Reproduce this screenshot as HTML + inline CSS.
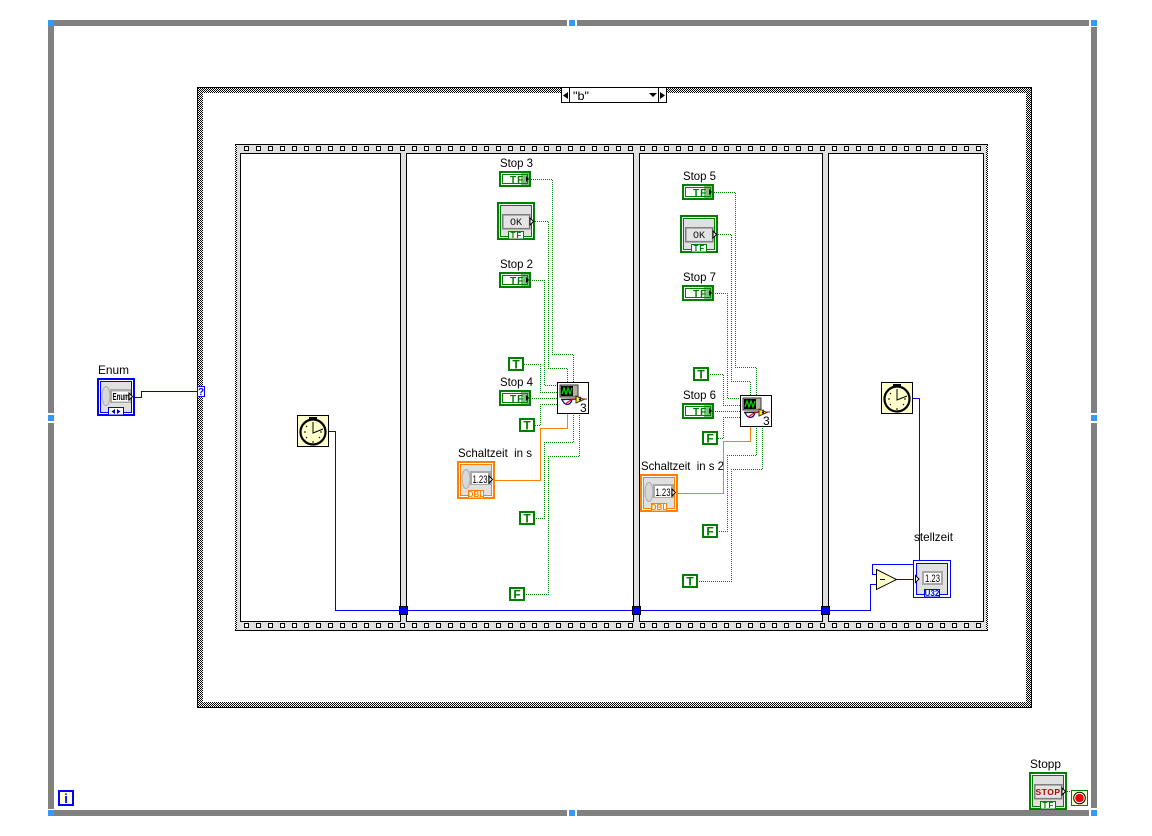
<!DOCTYPE html>
<html><head><meta charset="utf-8"><style>
html,body{margin:0;padding:0;background:#fff;width:1152px;height:836px;overflow:hidden}
svg{display:block}
text{font-family:"Liberation Sans",sans-serif;fill:#000}
.l{font-size:12px}
.g{fill:none;stroke:url(#dot);stroke-width:1}
.o{fill:none;stroke:#ff8000;stroke-width:1}
.b{fill:none;stroke:#0000ff;stroke-width:1}
.tf{font-size:10px;font-weight:bold;fill:#007a00;letter-spacing:1px}
.c{font-size:12px;font-weight:bold;fill:#007a00}
.tt{font-size:8px;font-weight:bold;fill:#007a00;letter-spacing:1px}
</style></head><body>
<svg width="1152" height="836" viewBox="0 0 1152 836" xmlns="http://www.w3.org/2000/svg">
<defs>
<pattern id="ck" width="2" height="2" patternUnits="userSpaceOnUse"><rect width="2" height="2" fill="#fff"/><rect width="1" height="1" fill="#000"/><rect x="1" y="1" width="1" height="1" fill="#000"/></pattern>
<pattern id="dot" width="2" height="2" patternUnits="userSpaceOnUse"><rect width="1" height="1" fill="#007f00"/><rect x="1" y="1" width="1" height="1" fill="#007f00"/></pattern>
<g id="bt" shape-rendering="crispEdges"><rect width="32" height="16" fill="#007f00"/><rect x="2" y="2" width="28" height="12" fill="#fff"/><rect x="3.5" y="3.5" width="25" height="9" fill="#fff" stroke="#007f00"/></g>
<g id="bo"><rect x="22" y="2" width="8" height="12" fill="#007f00" fill-opacity=".5"/><path d="M27 5L30 8L27 11Z" fill="#000"/></g>
<g id="con" shape-rendering="crispEdges"><rect width="16" height="14" fill="#007f00"/><rect x="2" y="2" width="12" height="10" fill="#fff"/></g>
<g id="big" shape-rendering="crispEdges"><rect x="1" y="1" width="36" height="36" fill="#fff" stroke="currentColor" stroke-width="2"/><rect x="3.5" y="3.5" width="31" height="31" fill="#e0e0e0" stroke="currentColor"/></g>
<g id="btn"><rect x="5.5" y="12.5" width="27" height="14" fill="#d8d8d8" stroke="#808080" stroke-width="1.5" shape-rendering="crispEdges"/><rect x="7" y="14" width="24" height="11" fill="#e4e4e4"/></g>
<g id="tab" shape-rendering="crispEdges"><rect x="11.5" y="29.5" width="15" height="7.5" fill="#fff" stroke="currentColor"/></g>
<path id="arw" d="M0 0L3.5 3.5L0 7Z" fill="#fff" stroke="#000" stroke-width="1"/>
<g id="clk"><rect x=".5" y=".5" width="31" height="31" fill="#ffffcc" stroke="#000" shape-rendering="crispEdges"/><rect x="12" y="2" width="8" height="2"/><rect x="15" y="3" width="2" height="3"/><circle cx="16" cy="17" r="12.5" fill="#ffffcc" stroke="#000" stroke-width="2.2"/><path d="M16 7V18L26 14" fill="none" stroke="#000" stroke-width="1"/><path d="M16 26v2M7 17h2M23 17h2M9 11l1 1M23 23l-1-1M9 23l1-1" stroke="#000" stroke-width="1"/></g>
<g id="xvi"><rect x=".5" y=".5" width="31" height="31" fill="#fff" stroke="#000" stroke-width="1.2" shape-rendering="crispEdges"/><rect x="3" y="3" width="18" height="12" fill="#b8b0a0" stroke="#333"/><rect x="4" y="4" width="12" height="10" fill="#000"/><path d="M5 12L7 6L9 12L11 6L13 12L15 6" fill="none" stroke="#00d000" stroke-width="1.3"/><path d="M5 17C7 24 13 24 15 18" fill="none" stroke="#0000b0" stroke-width="1.2"/><path d="M4 17.500L22 17" stroke="#202020" stroke-width="1.5"/><path d="M8 22L14 18L24 15" fill="none" stroke="#e00000" stroke-width="1.1"/><path d="M19 14L27 17.500L19 21Z" fill="#ffee00" stroke="#333"/><path d="M26 17h4" stroke="#e00000"/><circle cx="23" cy="17.500" r="1.100" fill="#000"/></g>
<g id="num"><ellipse cx="9" cy="18" rx="4" ry="9.500" fill="#d8d8d8" stroke="#aaa"/><rect x="13" y="10" width="21" height="14" fill="#a8a8a8"/><rect x="15" y="12" width="16" height="11" fill="#fff"/></g>
</defs>

<!-- While loop -->
<g fill="#808080" shape-rendering="crispEdges">
<rect x="54" y="20" width="513" height="6"/><rect x="577" y="20" width="512" height="6"/>
<rect x="54" y="810" width="513" height="6"/><rect x="577" y="810" width="512" height="6"/>
<rect x="48" y="26" width="6" height="387"/><rect x="48" y="423" width="6" height="386"/>
<rect x="1091" y="27" width="6" height="386"/><rect x="1091" y="423" width="6" height="385"/>
</g>
<g fill="#3399ff" shape-rendering="crispEdges">
<rect x="48" y="20" width="6" height="6"/><rect x="569" y="20" width="6" height="6"/><rect x="1091" y="20" width="6" height="6"/>
<rect x="48" y="415" width="6" height="6"/><rect x="1091" y="415" width="6" height="6"/>
<rect x="48" y="810" width="6" height="6"/><rect x="569" y="810" width="6" height="6"/><rect x="1091" y="810" width="6" height="6"/>
</g>

<!-- Case structure -->
<g shape-rendering="crispEdges">
<rect x="197.500" y="87.500" width="834" height="620" fill="url(#ck)" stroke="#000"/>
<rect x="203" y="93" width="823" height="609" fill="#fff"/>
<rect x="561.500" y="87.500" width="105" height="15" fill="#fff" stroke="#000"/>
<path d="M569.500 87V103M658.500 87V103" stroke="#000"/>
</g>
<path d="M568 92V99L563 95.500ZM660 92V99L665 95.500ZM649 93H657L653 97Z" fill="#000"/>
<text x="573" y="100" class="l" textLength="16" lengthAdjust="spacingAndGlyphs">"b"</text>

<!-- Sequence -->
<g shape-rendering="crispEdges">
<rect x="235.500" y="144.500" width="752" height="486" fill="#e0e0e0" stroke="#000"/>
<rect x="235" y="145" width="2" height="485" fill="url(#ck)"/>
<rect x="986" y="145" width="2" height="485" fill="url(#ck)"/>
<rect x="240.500" y="153.500" width="160" height="468" fill="#fff" stroke="#000"/>
<rect x="406.500" y="153.500" width="227" height="468" fill="#fff" stroke="#000"/>
<rect x="639.500" y="153.500" width="183" height="468" fill="#fff" stroke="#000"/>
<rect x="828.500" y="153.500" width="155" height="468" fill="#fff" stroke="#000"/>
<path id="h" d="M244.500 146.500h4v4h-4zM256.500 146.500h4v4h-4zM268.500 146.500h4v4h-4zM280.500 146.500h4v4h-4zM292.500 146.500h4v4h-4zM304.500 146.500h4v4h-4zM316.500 146.500h4v4h-4zM328.500 146.500h4v4h-4zM340.500 146.500h4v4h-4zM352.500 146.500h4v4h-4zM364.500 146.500h4v4h-4zM376.500 146.500h4v4h-4zM388.500 146.500h4v4h-4zM400.500 146.500h4v4h-4zM412.500 146.500h4v4h-4zM424.500 146.500h4v4h-4zM436.500 146.500h4v4h-4zM448.500 146.500h4v4h-4zM460.500 146.500h4v4h-4zM472.500 146.500h4v4h-4zM484.500 146.500h4v4h-4zM496.500 146.500h4v4h-4zM508.500 146.500h4v4h-4zM520.500 146.500h4v4h-4zM532.500 146.500h4v4h-4zM544.500 146.500h4v4h-4zM556.500 146.500h4v4h-4zM568.500 146.500h4v4h-4zM580.500 146.500h4v4h-4zM592.500 146.500h4v4h-4zM604.500 146.500h4v4h-4zM616.500 146.500h4v4h-4zM628.500 146.500h4v4h-4zM640.500 146.500h4v4h-4zM652.500 146.500h4v4h-4zM664.500 146.500h4v4h-4zM676.500 146.500h4v4h-4zM688.500 146.500h4v4h-4zM700.500 146.500h4v4h-4zM712.500 146.500h4v4h-4zM724.500 146.500h4v4h-4zM736.500 146.500h4v4h-4zM748.500 146.500h4v4h-4zM760.500 146.500h4v4h-4zM772.500 146.500h4v4h-4zM784.500 146.500h4v4h-4zM796.500 146.500h4v4h-4zM808.500 146.500h4v4h-4zM820.500 146.500h4v4h-4zM832.500 146.500h4v4h-4zM844.500 146.500h4v4h-4zM856.500 146.500h4v4h-4zM868.500 146.500h4v4h-4zM880.500 146.500h4v4h-4zM892.500 146.500h4v4h-4zM904.500 146.500h4v4h-4zM916.500 146.500h4v4h-4zM928.500 146.500h4v4h-4zM940.500 146.500h4v4h-4zM952.500 146.500h4v4h-4zM964.500 146.500h4v4h-4zM976.500 146.500h4v4h-4z" fill="#fff" stroke="#000"/>
<use href="#h" y="477"/>
</g>

<!-- Wires -->
<g shape-rendering="crispEdges">
<path class="g" d="M531 179.500H552.500V354.500H573.500V382"/>
<path class="g" d="M535 221.500H548.500V368.500H567.500V382"/>
<path class="g" d="M531 280.500H544.500V385.500H557"/>
<path class="g" d="M524 364.500H540.500V392.500H557"/>
<path class="g" d="M531 398.500H557"/>
<path class="g" d="M535 425.500H540.500V404.500H557"/>
<path class="o" d="M567.500 414V428.500H540.500V480.500H495"/>
<path class="g" d="M573.500 414V442.500H544.500V518.500H535"/>
<path class="g" d="M579.500 414V456.500H548.500V594.500H525"/>

<path class="g" d="M714 192.500H735.500V367.500H756.500V395"/>
<path class="g" d="M718 234.500H731.500V381.500H750.500V395"/>
<path class="g" d="M714 293.500H727.500V398.500H740"/>
<path class="g" d="M709 374.500H723.500V405.500H740"/>
<path class="g" d="M714 411.500H740"/>
<path class="g" d="M718 438.500H723.500V417.500H740"/>
<path class="o" d="M750.500 427V441.500H723.500V493.500H678"/>
<path class="g" d="M756.500 427V455.500H727.500V531.500H718"/>
<path class="g" d="M762.500 427V469.500H731.500V581.500H698"/>

<path class="b" d="M329 431.500H335.500V610.500H870.500V584.500H877"/>
<path class="b" d="M913 398.500H919.500V561"/>
<path class="b" d="M877 574.500H872.500V564.500H914"/>
<path class="b" d="M896 579.500H914"/>
<path d="M135 397.500H141.500V391.500H197" fill="none" stroke="#0000c8"/>
<path class="g" d="M1067 791.500H1071"/>
</g>

<!-- Tunnels -->
<g fill="#0000ff" stroke="#000" shape-rendering="crispEdges">
<rect x="399.500" y="606.500" width="8" height="8"/><rect x="632.500" y="606.500" width="8" height="8"/><rect x="821.500" y="606.500" width="8" height="8"/>
</g>

<!-- Labels -->
<text x="500" y="167" class="l" textLength="33" lengthAdjust="spacingAndGlyphs">Stop 3</text>
<text x="500" y="268" class="l" textLength="33" lengthAdjust="spacingAndGlyphs">Stop 2</text>
<text x="500" y="386" class="l" textLength="33" lengthAdjust="spacingAndGlyphs">Stop 4</text>
<text x="458" y="457" class="l" xml:space="preserve" textLength="74" lengthAdjust="spacingAndGlyphs">Schaltzeit  in s</text>
<text x="683" y="180" class="l" textLength="33" lengthAdjust="spacingAndGlyphs">Stop 5</text>
<text x="683" y="281" class="l" textLength="33" lengthAdjust="spacingAndGlyphs">Stop 7</text>
<text x="683" y="399" class="l" textLength="33" lengthAdjust="spacingAndGlyphs">Stop 6</text>
<text x="641" y="470" class="l" xml:space="preserve" textLength="83" lengthAdjust="spacingAndGlyphs">Schaltzeit  in s 2</text>
<text x="98" y="374" class="l" textLength="31" lengthAdjust="spacingAndGlyphs">Enum</text>
<text x="914" y="541" class="l" textLength="39" lengthAdjust="spacingAndGlyphs">stellzeit</text>
<text x="1030" y="768" class="l" textLength="31" lengthAdjust="spacingAndGlyphs">Stopp</text>

<!-- Boolean terminals -->
<g transform="translate(499,171)"><use href="#bt"/><text x="11" y="12" class="tf">TF</text><use href="#bo"/></g>
<g transform="translate(499,272)"><use href="#bt"/><text x="11" y="12" class="tf">TF</text><use href="#bo"/></g>
<g transform="translate(499,390)"><use href="#bt"/><text x="11" y="12" class="tf">TF</text><use href="#bo"/></g>
<g transform="translate(682,184)"><use href="#bt"/><text x="11" y="12" class="tf">TF</text><use href="#bo"/></g>
<g transform="translate(682,285)"><use href="#bt"/><text x="11" y="12" class="tf">TF</text><use href="#bo"/></g>
<g transform="translate(682,403)"><use href="#bt"/><text x="11" y="12" class="tf">TF</text><use href="#bo"/></g>

<!-- OK buttons -->
<g transform="translate(497,202)" color="#007f00"><use href="#big"/><use href="#btn"/><text x="13" y="23" style="font-family:'Liberation Mono',monospace;font-size:10px;fill:#111">OK</text><use href="#tab"/><text x="13.500" y="36" class="tt">TF</text><use href="#arw" x="33" y="16"/></g>
<g transform="translate(680,215)" color="#007f00"><use href="#big"/><use href="#btn"/><text x="13" y="23" style="font-family:'Liberation Mono',monospace;font-size:10px;fill:#111">OK</text><use href="#tab"/><text x="13.500" y="36" class="tt">TF</text><use href="#arw" x="33" y="16"/></g>

<!-- Stop -->
<g transform="translate(1029,772)" color="#007f00"><use href="#big"/><use href="#btn"/><text x="19" y="23" text-anchor="middle" style="font-size:8.500px;font-weight:bold;fill:#c00000;letter-spacing:.5px">STOP</text><use href="#tab"/><text x="13.500" y="36" class="tt">TF</text><use href="#arw" x="33" y="16"/></g>

<!-- Constants -->
<g transform="translate(508,357)"><use href="#con"/><text x="8" y="11.500" text-anchor="middle" class="c">T</text></g>
<g transform="translate(519,418)"><use href="#con"/><text x="8" y="11.500" text-anchor="middle" class="c">T</text></g>
<g transform="translate(519,511)"><use href="#con"/><text x="8" y="11.500" text-anchor="middle" class="c">T</text></g>
<g transform="translate(509,587)"><use href="#con"/><text x="8" y="11.500" text-anchor="middle" class="c">F</text></g>
<g transform="translate(693,367)"><use href="#con"/><text x="8" y="11.500" text-anchor="middle" class="c">T</text></g>
<g transform="translate(702,431)"><use href="#con"/><text x="8" y="11.500" text-anchor="middle" class="c">F</text></g>
<g transform="translate(702,524)"><use href="#con"/><text x="8" y="11.500" text-anchor="middle" class="c">F</text></g>
<g transform="translate(682,574)"><use href="#con"/><text x="8" y="11.500" text-anchor="middle" class="c">T</text></g>

<!-- Numeric controls -->
<g transform="translate(457,461)" color="#ff8000"><use href="#big"/><use href="#num"/><text x="15.500" y="22" style="font-size:11px" textLength="15" lengthAdjust="spacingAndGlyphs">1.23</text><use href="#tab"/><text x="19" y="36" text-anchor="middle" style="font-size:8px;font-weight:bold;fill:#ff8000">DBL</text><use href="#arw" x="32" y="15"/></g>
<g transform="translate(640,474)" color="#ff8000"><use href="#big"/><use href="#num"/><text x="15.500" y="22" style="font-size:11px" textLength="15" lengthAdjust="spacingAndGlyphs">1.23</text><use href="#tab"/><text x="19" y="36" text-anchor="middle" style="font-size:8px;font-weight:bold;fill:#ff8000">DBL</text><use href="#arw" x="32" y="15"/></g>

<!-- Express VIs -->
<g transform="translate(557,382)"><use href="#xvi"/><text x="23" y="30" style="font-size:12px">3</text></g>
<g transform="translate(740,395)"><use href="#xvi"/><text x="23" y="30" style="font-size:12px">3</text></g>

<!-- Clocks -->
<use href="#clk" x="297" y="415"/>
<use href="#clk" x="881" y="382"/>

<!-- Subtract -->
<path d="M876.500 569.500L896.500 579.500L876.500 589.500Z" fill="#ffffcc" stroke="#000"/>
<path d="M880 579.500H885" stroke="#000"/>

<!-- stellzeit indicator -->
<g transform="translate(913,560)" color="#0000ff">
<rect x=".5" y=".5" width="37" height="37" fill="#fff" stroke="#0000ff" shape-rendering="crispEdges"/>
<rect x="3.500" y="3.500" width="31" height="31" fill="#e0e0e0" stroke="#0000ff" shape-rendering="crispEdges"/>
<rect x="9" y="11" width="21" height="14" fill="#a8a8a8"/><rect x="11" y="13" width="17" height="10" fill="#fff"/>
<text x="12" y="22" style="font-size:11px" textLength="15" lengthAdjust="spacingAndGlyphs">1.23</text>
<use href="#tab"/><text x="19" y="36" text-anchor="middle" style="font-size:8px;font-weight:bold;fill:#0000ff">U32</text>
<path d="M2.500 15.500L6 19L2.500 22.500Z" fill="#fff" stroke="#000"/>
</g>

<!-- Enum -->
<g transform="translate(97,378)" color="#0000ff"><use href="#big"/><ellipse cx="9" cy="18" rx="4" ry="9.500" fill="#d8d8d8" stroke="#aaa"/><rect x="13" y="11" width="21" height="14" fill="#a8a8a8"/><rect x="15" y="13.500" width="18" height="10" fill="#fff"/><text x="15.500" y="22" style="font-size:10px;font-weight:bold" textLength="17" lengthAdjust="spacingAndGlyphs">Enum</text><use href="#tab"/><path d="M14.500 33.500L18 31V36ZM23.500 33.500L20 31V36Z" fill="#0000c8"/><use href="#arw" x="32" y="15"/></g>

<!-- Selector terminal -->
<rect x="197.500" y="386.500" width="7" height="10" fill="#fff" stroke="#0000ff" shape-rendering="crispEdges"/>
<text x="201" y="395" text-anchor="middle" style="font-size:10px;font-weight:bold;fill:#0000ff">?</text>

<!-- Stop terminal -->
<rect x="1071.500" y="790.500" width="16" height="15" fill="#ffffcc" stroke="#007f00" shape-rendering="crispEdges"/>
<circle cx="1079.500" cy="798" r="5.800" fill="#fff" stroke="#000" stroke-width="1"/>
<circle cx="1079.500" cy="798" r="4.300" fill="#f00000"/>

<!-- Iteration terminal -->
<rect x="59" y="791" width="14" height="14" fill="#ffffcc" stroke="#0000ff" stroke-width="2" shape-rendering="crispEdges"/>
<text x="66" y="803" text-anchor="middle" style="font-size:13px;font-weight:bold;fill:#0000ff">i</text>
</svg>
</body></html>
